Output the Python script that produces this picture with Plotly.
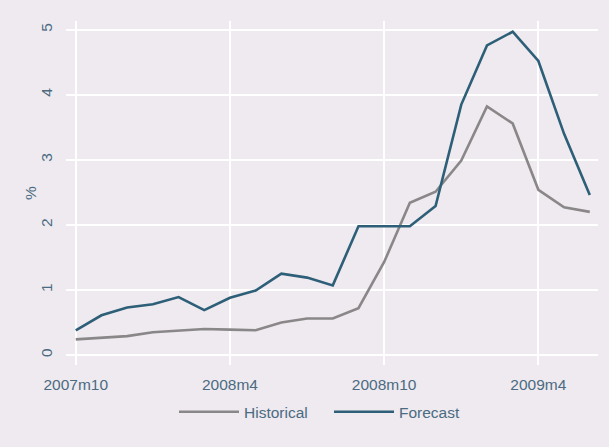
import plotly.graph_objects as go

months = ["2007m10", "2007m11", "2007m12",
          "2008m1", "2008m2", "2008m3", "2008m4", "2008m5", "2008m6",
          "2008m7", "2008m8", "2008m9", "2008m10", "2008m11", "2008m12",
          "2009m1", "2009m2", "2009m3", "2009m4", "2009m5", "2009m6"]

historical = [0.24, 0.27, 0.29, 0.35, 0.37, 0.40, 0.39, 0.38, 0.50, 0.56, 0.56,
              0.72, 1.43, 2.34, 2.51, 2.99, 3.82, 3.56, 2.54, 2.27, 2.20]

forecast = [0.38, 0.61, 0.73, 0.78, 0.89, 0.69, 0.88, 0.99, 1.25, 1.19, 1.07,
            1.98, 1.98, 1.98, 2.29, 3.85, 4.76, 4.97, 4.52, 3.40, 2.46]

x_ticks = ["2007m10", "2008m4", "2008m10", "2009m4"]
y_ticks = [0, 1, 2, 3, 4, 5]

BG = "#EEEAEF"
TXT = "#4B6B82"
FONT = "Liberation Sans, Arial, sans-serif"
FS = 15.5

fig = go.Figure()
fig.add_trace(go.Scatter(x=months, y=historical, mode="lines", name="Historical",
                         line=dict(color="#8A8789", width=2.6)))
fig.add_trace(go.Scatter(x=months, y=forecast, mode="lines", name="Forecast",
                         line=dict(color="#2E5F78", width=2.6)))

fig.update_layout(
    width=609, height=447,
    margin=dict(l=66, r=11, t=21, b=82),
    paper_bgcolor=BG, plot_bgcolor=BG,
    font=dict(family=FONT, size=FS, color=TXT),
    showlegend=True,
    legend=dict(orientation="h", x=0.203, xanchor="left", y=-0.137, yanchor="middle",
                bgcolor="rgba(0,0,0,0)", font=dict(size=FS, color=TXT),
                itemwidth=60, entrywidth=80, entrywidthmode="pixels",
                tracegroupgap=0),
    annotations=[dict(text="%", xref="paper", yref="paper", x=-0.0677, y=0.5,
                      xanchor="center", yanchor="middle", showarrow=False,
                      textangle=-90, font=dict(size=FS, color=TXT))],
)
fig.update_xaxes(type="category", range=[-0.38, 20.32], automargin=False,
                 tickmode="array", tickvals=x_ticks, ticktext=x_ticks,
                 showgrid=True, gridcolor="white", gridwidth=1.5,
                 ticks="outside", ticklen=5, tickcolor=BG,
                 showline=False, zeroline=False,
                 tickfont=dict(size=FS, color=TXT))
fig.update_yaxes(range=[-0.154, 5.135], tickmode="array", tickvals=y_ticks,
                 automargin=False,
                 showgrid=True, gridcolor="white", gridwidth=1.5,
                 ticks="outside", ticklen=7, tickcolor=BG, tickangle=-90,
                 showline=False, zeroline=False,
                 tickfont=dict(size=FS, color=TXT))

fig.write_html("out.html", config={"displayModeBar": False},
               post_script="document.body.style.margin='0';")
